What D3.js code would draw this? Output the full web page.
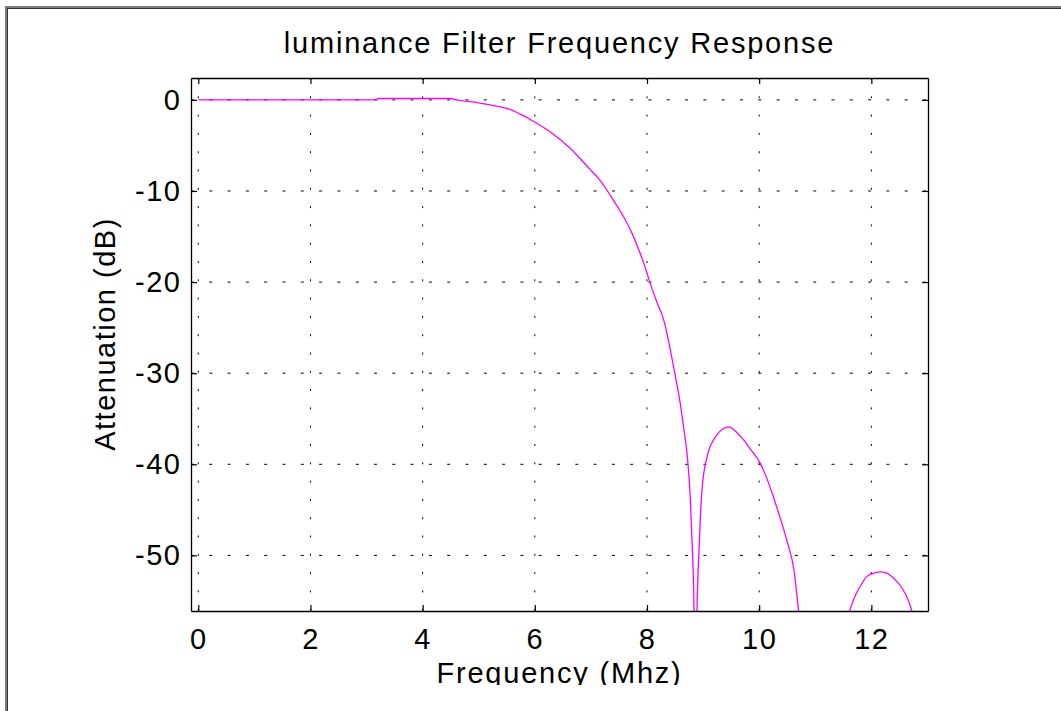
<!DOCTYPE html>
<html>
<head>
<meta charset="utf-8">
<script src="https://cdn.jsdelivr.net/npm/d3@7"></script>
<style>
  body { margin: 0; background: #fff; }
  svg { display: block; font-family: "Liberation Sans", Arial, sans-serif; }
</style>
</head>
<body>
<div id="graph"></div>
<script>
// frequency response (MHz, dB)
let freq = [0, 1, 2, 3, 3.18, 3.2, 4.5, 4.6, 4.85, 5.2, 5.56, 5.75, 5.99, 6.27, 6.63, 6.98, 7.16, 7.4, 7.58, 7.73, 7.85, 7.93, 8.05, 8.17, 8.3, 8.44, 8.52, 8.59, 8.65, 8.72, 8.77, 8.8, 8.84, 8.86, 8.89, 8.93, 8.95, 8.98, 9.07, 9.22, 9.33, 9.46, 9.6, 9.72, 9.84, 10.02, 10.14, 10.26, 10.38, 10.5, 10.62, 10.71, 10.9, 11.2, 11.45, 11.6, 11.68, 11.83, 11.92, 12.07, 12.16, 12.25, 12.43, 12.55, 12.67, 12.74, 12.9];
let atten = [0, 0, 0, 0, 0, 0.15, 0.15, 0, -0.2, -0.55, -1.05, -1.6, -2.4, -3.5, -5.3, -7.6, -8.8, -11, -12.8, -14.6, -16.4, -17.7, -20, -22.1, -24.2, -28.2, -30.8, -33.2, -35.8, -39.2, -43.5, -48, -56.5, -70, -56.5, -49, -46, -42.8, -39.2, -37, -36.2, -35.9, -36.5, -37.3, -38.3, -39.9, -41.6, -43.7, -46, -48.5, -51.6, -56.5, -65, -80, -65, -56.5, -54.9, -53.1, -52.3, -51.9, -51.8, -51.9, -52.7, -53.6, -55.1, -56.5, -62];
let xTicks = [0, 2, 4, 6, 8, 10, 12];
let yTicks = [0, -10, -20, -30, -40, -50];

let width = 1061;
let height = 711;
let padL = 191, padR = 928, padT = 78, padB = 611;

let data = freq.map((f, i) => ({ f: f, db: atten[i] }));

let svg = d3.select('#graph')
  .append('svg')
  .attr('width', width)
  .attr('height', height);

// window frame
svg.append('rect').attr('x', 5).attr('y', 6).attr('width', width - 5).attr('height', 3).attr('fill', '#7a7a7a');
svg.append('rect').attr('x', 5).attr('y', 6).attr('width', 3).attr('height', height - 6).attr('fill', '#7a7a7a');
svg.append('line').attr('x1', 8).attr('x2', width).attr('y1', 8.5).attr('y2', 8.5).attr('stroke', '#333');
svg.append('line').attr('x1', 7.5).attr('x2', 7.5).attr('y1', 8).attr('y2', height).attr('stroke', '#333');

let x = d3.scaleLinear().domain([-0.13, 13.01]).range([padL, padR]);
let y = d3.scaleLinear().domain([-56.1, 2.4]).range([padB, padT]);

let defs = svg.append('defs');
defs.append('clipPath').attr('id', 'plot')
  .append('rect').attr('x', padL).attr('y', padT).attr('width', padR - padL).attr('height', padB - padT);
defs.append('clipPath').attr('id', 'page')
  .append('rect').attr('x', 0).attr('y', 0).attr('width', width).attr('height', 685);

// dotted grid
svg.append('g').selectAll('line')
  .data(xTicks)
  .enter()
  .append('line')
  .attr('x1', d => x(d)).attr('x2', d => x(d))
  .attr('y1', padT).attr('y2', padB)
  .attr('stroke', '#000').attr('stroke-width', 1)
  .attr('stroke-dasharray', '2,16.3');

svg.append('g').selectAll('line')
  .data(yTicks)
  .enter()
  .append('line')
  .attr('x1', padL).attr('x2', padR)
  .attr('y1', d => y(d)).attr('y2', d => y(d))
  .attr('stroke', '#000').attr('stroke-width', 1)
  .attr('stroke-dasharray', '3,15.3');

// response curve
let line = d3.line()
  .curve(d3.curveMonotoneX)
  .x(d => x(d.f))
  .y(d => y(d.db));

svg.append('path')
  .datum(data)
  .attr('clip-path', 'url(#plot)')
  .attr('fill', 'none')
  .attr('stroke', '#ff00ff')
  .attr('stroke-width', 1.3)
  .attr('d', line);

// axes, ticks pointing inward on all four sides
let styleAxis = g => {
  g.select('.domain').attr('stroke-width', 1.3);
  g.selectAll('.tick line').attr('stroke-width', 1.2);
  g.selectAll('text').attr('font-size', 29).attr('fill', '#000')
    .attr('letter-spacing', 1.5)
    .style('font-family', '"Liberation Sans", Arial, sans-serif');
};

svg.append('g')
  .attr('transform', 'translate(0,' + padB + ')')
  .call(d3.axisBottom(x).tickValues(xTicks).tickSize(-6).tickSizeOuter(0).tickPadding(17).tickFormat(d3.format('d')))
  .call(styleAxis);

svg.append('g')
  .attr('transform', 'translate(0,' + padT + ')')
  .call(d3.axisTop(x).tickValues(xTicks).tickSize(-6).tickSizeOuter(0).tickFormat(''))
  .call(styleAxis);

svg.append('g')
  .attr('transform', 'translate(' + padL + ',0)')
  .call(d3.axisLeft(y).tickValues(yTicks).tickSize(-6).tickSizeOuter(0).tickPadding(9.5).tickFormat(d => d3.format('d')(d).replace('\u2212', '-')))
  .call(styleAxis);

svg.append('g')
  .attr('transform', 'translate(' + padR + ',0)')
  .call(d3.axisRight(y).tickValues(yTicks).tickSize(-6).tickSizeOuter(0).tickFormat(''))
  .call(styleAxis);

// titles
svg.append('text')
  .text('luminance Filter Frequency Response')
  .attr('x', (padL + padR) / 2)
  .attr('y', 53)
  .attr('text-anchor', 'middle')
  .attr('font-size', 29)
  .attr('letter-spacing', 1.8);

svg.append('text')
  .text('Frequency (Mhz)')
  .attr('clip-path', 'url(#page)')
  .attr('x', (padL + padR) / 2)
  .attr('y', 683)
  .attr('text-anchor', 'middle')
  .attr('font-size', 29)
  .attr('letter-spacing', 1.8);

svg.append('text')
  .text('Attenuation (dB)')
  .attr('transform', 'translate(115,334) rotate(-90)')
  .attr('text-anchor', 'middle')
  .attr('font-size', 29)
  .attr('letter-spacing', 1.5);
</script>
</body>
</html>
